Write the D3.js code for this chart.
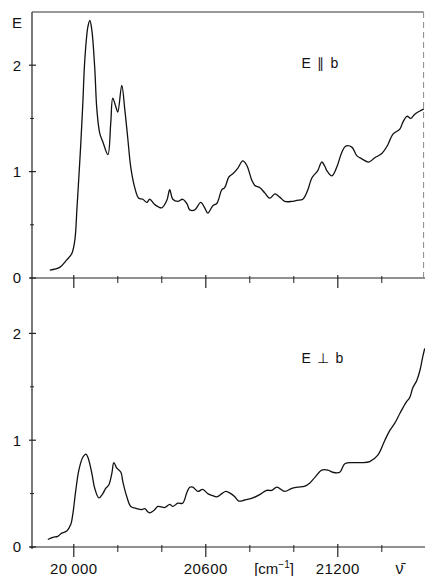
<!DOCTYPE html>
<html>
<head>
<meta charset="utf-8">
<script src="https://cdn.jsdelivr.net/npm/d3@7"></script>
<style>
  body { margin: 0; background: #fff; }
  text { font-family: "Liberation Sans", Arial, sans-serif; fill: #111; }
</style>
</head>
<body>
<div id="viz"></div>
<script>
// wavenumbers (cm-1) and absorbance E, polarisation E || b
var nuPar = [19891, 19936, 19968, 19991, 20005, 20014, 20023, 20032, 20041, 20050, 20064, 20073, 20082, 20095,
  20105, 20118, 20132, 20155, 20168, 20177, 20191, 20200, 20218, 20232, 20245, 20259, 20277, 20295, 20314,
  20332, 20345, 20368, 20400, 20423, 20436, 20450, 20473, 20495, 20514, 20527, 20550, 20577, 20595, 20609,
  20632, 20650, 20673, 20686, 20705, 20723, 20745, 20768, 20786, 20809, 20823, 20845, 20868, 20891, 20914,
  20936, 20959, 20991, 21014, 21041, 21064, 21082, 21109, 21127, 21141, 21150, 21173, 21195, 21218, 21236,
  21264, 21286, 21309, 21341, 21368, 21400, 21427, 21450, 21482, 21495, 21514, 21532, 21550, 21573, 21591];
var ePar = [0.075, 0.10, 0.17, 0.23, 0.36, 0.64, 0.95, 1.27, 1.64, 2.05, 2.36, 2.42, 2.33, 1.98,
  1.58, 1.36, 1.28, 1.16, 1.46, 1.69, 1.61, 1.56, 1.81, 1.58, 1.32, 1.04, 0.85, 0.75, 0.74,
  0.71, 0.74, 0.69, 0.66, 0.73, 0.83, 0.74, 0.72, 0.74, 0.70, 0.64, 0.64, 0.71, 0.66, 0.61,
  0.68, 0.70, 0.83, 0.85, 0.95, 0.98, 1.03, 1.10, 1.06, 0.92, 0.87, 0.85, 0.80, 0.75, 0.79,
  0.76, 0.72, 0.72, 0.73, 0.74, 0.83, 0.94, 1.01, 1.09, 1.05, 1.01, 0.96, 1.04, 1.18, 1.24,
  1.23, 1.15, 1.12, 1.09, 1.13, 1.17, 1.25, 1.35, 1.40, 1.46, 1.52, 1.50, 1.54, 1.57, 1.59];

// polarisation E _|_ b
var nuPerp = [19882, 19905, 19927, 19945, 19968, 19986, 19995, 20009, 20023, 20041, 20055, 20064, 20082, 20095,
  20114, 20132, 20145, 20159, 20173, 20182, 20195, 20214, 20223, 20241, 20259, 20286, 20309, 20323, 20336,
  20345, 20368, 20382, 20414, 20436, 20450, 20473, 20495, 20514, 20527, 20541, 20564, 20586, 20609, 20632,
  20650, 20673, 20691, 20714, 20732, 20750, 20777, 20814, 20845, 20877, 20900, 20923, 20959, 20991, 21018,
  21050, 21073, 21095, 21127, 21155, 21177, 21209, 21232, 21268, 21309, 21345, 21382, 21414, 21436, 21459,
  21482, 21509, 21527, 21541, 21559, 21573, 21586, 21595];
var ePerp = [0.07, 0.09, 0.10, 0.13, 0.15, 0.21, 0.30, 0.53, 0.72, 0.84, 0.87, 0.84, 0.69, 0.55,
  0.46, 0.50, 0.55, 0.58, 0.69, 0.79, 0.74, 0.70, 0.61, 0.47, 0.38, 0.36, 0.35, 0.36, 0.33,
  0.32, 0.35, 0.38, 0.37, 0.40, 0.38, 0.41, 0.41, 0.51, 0.56, 0.56, 0.52, 0.54, 0.50, 0.48,
  0.47, 0.50, 0.52, 0.50, 0.47, 0.43, 0.44, 0.46, 0.49, 0.53, 0.53, 0.56, 0.52, 0.55, 0.56,
  0.57, 0.60, 0.65, 0.72, 0.72, 0.70, 0.70, 0.78, 0.79, 0.79, 0.80, 0.86, 1.00, 1.09, 1.16,
  1.25, 1.35, 1.40, 1.49, 1.56, 1.65, 1.78, 1.86];

var xMajor = [20000, 20600, 21200];
var xMinor = [20200, 20400, 20800, 21000, 21400];
var yMajor = [0, 1, 2];
var yMinor = [0.5, 1.5];
var panelLabels = ["E \u2225 b", "E \u22A5 b"];

const W = 425, H = 576;
const svg = d3.select("#viz").append("svg")
    .attr("width", W).attr("height", H);

const x = d3.scaleLinear().domain([19810, 21600]).range([32, 425.8]);

const panels = [
  { top: 12, bottom: 278, nu: nuPar, e: ePar, label: panelLabels[0], ly: 1.97 },
  { top: 280, bottom: 547, nu: nuPerp, e: ePerp, label: panelLabels[1], ly: 1.72 }
];

panels.forEach(function(p) {
  const y = d3.scaleLinear().domain([0, 2.5]).range([p.bottom, p.top]);

  // x axis line with minor and major ticks (ticks poke out both sides)
  const gx = svg.append("g").attr("transform", `translate(0,${y(0)})`);
  gx.append("line").attr("x1", 30).attr("x2", W).attr("stroke", "#222").attr("stroke-width", 1.2);
  gx.selectAll(".mn").data(xMinor).join("line")
      .attr("x1", d => x(d)).attr("x2", d => x(d))
      .attr("y1", -2).attr("y2", 5)
      .attr("stroke", "#222").attr("stroke-width", 1);
  gx.selectAll(".mj").data(xMajor).join("line")
      .attr("x1", d => x(d)).attr("x2", d => x(d))
      .attr("y1", -3).attr("y2", 10)
      .attr("stroke", "#222").attr("stroke-width", 1.2);

  // y axis
  const gy = svg.append("g");
  gy.append("line").attr("x1", 32).attr("x2", 32)
      .attr("y1", y(2.5)).attr("y2", y(0) + 2)
      .attr("stroke", "#222").attr("stroke-width", 1.2);
  gy.selectAll(".ymj").data(yMajor).join("line")
      .attr("x1", 29).attr("x2", 36)
      .attr("y1", d => y(d)).attr("y2", d => y(d))
      .attr("stroke", "#222").attr("stroke-width", 1.2);
  gy.selectAll(".ymn").data(yMinor).join("line")
      .attr("x1", 30).attr("x2", 34)
      .attr("y1", d => y(d)).attr("y2", d => y(d))
      .attr("stroke", "#222").attr("stroke-width", 1);
  gy.selectAll("text").data(yMajor).join("text")
      .attr("x", 17).attr("y", d => y(d))
      .attr("dy", "0.36em")
      .attr("text-anchor", "middle")
      .attr("font-size", 15)
      .text(d => d);

  // spectrum
  const line = d3.line()
      .x(function(d) { return x(d[0]); })
      .y(function(d) { return y(d[1]); })
      .curve(d3.curveCatmullRom.alpha(0.5));
  svg.append("path")
      .datum(d3.zip(p.nu, p.e))
      .attr("fill", "none")
      .attr("stroke", "#111")
      .attr("stroke-width", 1.3)
      .attr("stroke-linejoin", "round")
      .attr("d", line);

  // polarisation label
  svg.append("text")
      .attr("x", x(21035)).attr("y", y(p.ly))
      .attr("font-size", 14)
      .attr("letter-spacing", 1.2)
      .text(p.label);
});

// frame of upper panel
svg.append("line").attr("x1", 32).attr("x2", x(21590))
    .attr("y1", 12).attr("y2", 12)
    .attr("stroke", "#333").attr("stroke-width", 1.2);
svg.append("line").attr("x1", x(21590)).attr("x2", x(21590))
    .attr("y1", 12).attr("y2", 278)
    .attr("stroke", "#888").attr("stroke-width", 1)
    .attr("stroke-dasharray", "6,4");

// "E" axis title
svg.append("text").attr("x", 17).attr("y", 23)
    .attr("dy", "0.36em").attr("text-anchor", "middle")
    .attr("font-size", 15).text("E");

// x tick labels and unit
const fmt = d => d === 20000 ? "20\u2009000" : String(d);
svg.selectAll(".xl").data(xMajor).join("text")
    .attr("x", d => x(d)).attr("y", 574)
    .attr("text-anchor", "middle")
    .attr("font-size", 15)
    .attr("letter-spacing", 0.5)
    .text(fmt);

const unit = svg.append("text").attr("x", x(20910)).attr("y", 574)
    .attr("text-anchor", "middle").attr("font-size", 15);
unit.append("tspan").text("[cm");
unit.append("tspan").attr("font-size", 10).attr("dy", -6).text("\u22121");
unit.append("tspan").attr("dy", 6).text("]");

svg.append("text").attr("x", x(21480)).attr("y", 574)
    .attr("text-anchor", "middle").attr("font-size", 16)
    .text("\u03BD\u0304");
</script>
</body>
</html>
